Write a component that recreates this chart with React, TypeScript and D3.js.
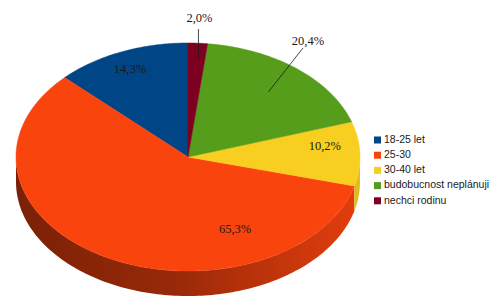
import React from "react";
import * as d3 from "d3";

const categories = ["18-25 let", "25-30", "30-40 let", "budobucnost neplánuji", "nechci rodinu"];
const values = [7, 32, 5, 10, 1];
const percentLabels = ["14,3%", "65,3%", "10,2%", "20,4%", "2,0%"];
const colors = ["#004586", "#f9440e", "#f8cf20", "#579d1c", "#7e0021"];

// label placement (degrees clockwise from top, relative radius)
const labelAngleDeg = [336, 157, 84, 39, 4];
const labelRadius = [0.83, 0.7, 0.8, 0.78, 0.87];

const W = 500, H = 305;
const cx = 188, cy = 157, rx = 172, ry = 114, depth = 25;

const pt = (a: number, k = 1, dy = 0): [number, number] => [
  cx + rx * k * Math.sin(a),
  cy - ry * k * Math.cos(a) + dy,
];

function arcPoints(a0: number, a1: number, dy = 0): [number, number][] {
  const n = Math.max(2, Math.ceil(Math.abs(a1 - a0) / 0.02));
  const pts: [number, number][] = [];
  for (let i = 0; i <= n; i++) pts.push(pt(a0 + ((a1 - a0) * i) / n, 1, dy));
  return pts;
}

const line = d3.line();

export default function App() {
  const pie = d3.pie<number>().sort(null).startAngle(0).endAngle(-2 * Math.PI);
  const arcs = pie(values);

  const sides: { d: string; i: number }[] = [];
  arcs.forEach((s, i) => {
    const lo = Math.min(s.startAngle, s.endAngle);
    const hi = Math.max(s.startAngle, s.endAngle);
    const fLo = -1.5 * Math.PI, fHi = -0.5 * Math.PI;
    const a0 = Math.max(lo, fLo), a1 = Math.min(hi, fHi);
    if (a1 > a0) {
      const top = arcPoints(a0, a1);
      const bot = arcPoints(a1, a0, depth);
      sides.push({ d: line([...top, ...bot])! + "Z", i });
    }
  });

  const tops = arcs.map((s, i) => {
    const pts = [[cx, cy] as [number, number], ...arcPoints(s.startAngle, s.endAngle)];
    return { d: line(pts)! + "Z", i };
  });

  const labels = arcs.map((s, i) => {
    const a = (labelAngleDeg[i] * Math.PI) / 180;
    const frac = Math.abs(s.endAngle - s.startAngle) / (2 * Math.PI);
    const [x0, y0] = pt(a, labelRadius[i]);
    if (frac < 0.05) {
      return { x: x0 + 1, y: 22, leader: [x0, y0, x0, 29] as number[] };
    }
    if (i === 3) {
      return { x: 308, y: 45, leader: [x0 - 4, y0 + 4, 303, 48] as number[] };
    }
    return { x: x0, y: y0, leader: null as number[] | null };
  });

  const legendY0 = 140, legendStep = 15.2;

  return (
    <svg width={W} height={H} style={{ position: "absolute", left: 0, top: 0, background: "#fff" }}>
      <defs>
        {colors.map((c, i) => {
          const base = d3.color(c)!;
          return (
            <linearGradient key={i} id={`side${i}`} gradientUnits="userSpaceOnUse" x1={cx - rx} y1={0} x2={cx + rx} y2={0}>
              <stop offset="0%" stopColor={d3.rgb(base).darker(2.0).formatHex()} />
              <stop offset="45%" stopColor={d3.rgb(base).darker(1.4).formatHex()} />
              <stop offset="100%" stopColor={d3.rgb(base).darker(0.25).formatHex()} />
            </linearGradient>
          );
        })}
      </defs>
      {sides.map((s) => (
        <path key={"s" + s.i} d={s.d} fill={`url(#side${s.i})`} />
      ))}
      {tops.map((t) => (
        <path key={"t" + t.i} d={t.d} fill={colors[t.i]} stroke={colors[t.i]} strokeWidth={0.5} />
      ))}
      {labels.map((p, i) => (
        <g key={"l" + i}>
          {p.leader && (
            <line x1={p.leader[0]} y1={p.leader[1]} x2={p.leader[2]} y2={p.leader[3]} stroke="#1a1a1a" strokeWidth={0.8} />
          )}
          <text
            x={p.x}
            y={p.y}
            textAnchor="middle"
            dominantBaseline={p.leader ? "auto" : "middle"}
            fontFamily="'Liberation Serif', 'DejaVu Serif', serif"
            fontSize={12.5}
            fill="#1a1a1a"
          >
            {percentLabels[i]}
          </text>
        </g>
      ))}
      {categories.map((c, i) => (
        <g key={"lg" + i} transform={`translate(374, ${legendY0 + i * legendStep})`}>
          <rect x={0} y={-3.5} width={7} height={7} fill={colors[i]} />
          <text x={10} y={0} dominantBaseline="middle" fontFamily="'Liberation Sans', Arial, sans-serif" fontSize={10.5} fill="#1a1a1a">
            {c}
          </text>
        </g>
      ))}
    </svg>
  );
}
